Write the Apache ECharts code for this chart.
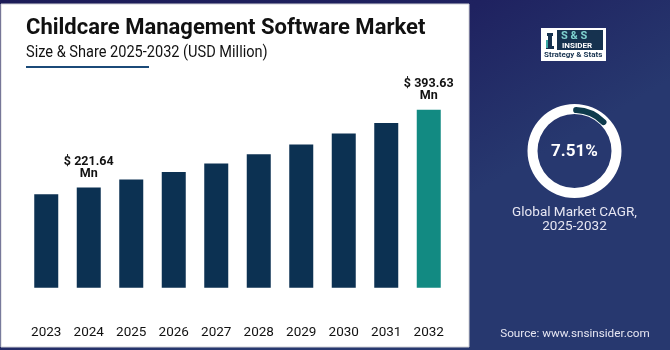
<!DOCTYPE html>
<html>
<head>
<meta charset="utf-8">
<script src="https://cdn.jsdelivr.net/npm/echarts@6/dist/echarts.min.js"></script>
<style>
  html, body { margin: 0; padding: 0; }
  #main { width: 670px; height: 350px; }
</style>
</head>
<body>
<div id="main"></div>
<script>
// data
var years = ['2023', '2024', '2025', '2026', '2027', '2028', '2029', '2030', '2031', '2032'];
var marketSize = [206.8, 221.64, 239.2, 256.0, 274.5, 295.0, 316.4, 340.7, 364.0, 393.63];
var labelledYears = ['2024', '2032'];
var cagr = '7.51%';
var cagrCaption = 'Global Market CAGR,\n2025-2032';

var chart = echarts.init(document.getElementById('main'));

var barData = marketSize.map(function (v, i) {
    var last = i === marketSize.length - 1;
    return {
        value: v,
        itemStyle: { color: last ? '#128a82' : '#0c3152' },
        label: { show: labelledYears.indexOf(years[i]) >= 0 }
    };
});

var option = {
    backgroundColor: '#1e1d5a',
    animation: false,
    graphic: [
        {
            type: 'rect', z: -20, silent: true,
            shape: { x: 0, y: 0, width: 670, height: 350 },
            style: {
                fill: new echarts.graphic.LinearGradient(0, 0, 0.3, 1, [
                    { offset: 0, color: '#1d1c58' },
                    { offset: 0.6, color: '#1f2260' },
                    { offset: 1, color: '#27386f' }
                ])
            }
        },
        // white card
        {
            type: 'rect', z: -10, silent: true,
            shape: { x: 1, y: 4, width: 468, height: 343 },
            style: { fill: '#ffffff', stroke: '#d0d0d6', lineWidth: 1 }
        },
        {
            type: 'text', left: 26, top: 17,
            style: {
                text: 'Childcare Management Software Market',
                font: 'bold 22px Roboto', fill: '#111111'
            }
        },
        {
            type: 'text', x: 26, y: 45, scaleX: 0.91,
            style: {
                text: 'Size & Share 2025-2032 (USD Million)',
                font: '16px Roboto', fill: '#111111'
            }
        },
        {
            type: 'rect', silent: true,
            shape: { x: 26, y: 66, width: 123, height: 2 },
            style: { fill: '#1b4a78' }
        },
        // logo
        {
            type: 'group', left: 541, top: 28,
            children: [
                { type: 'rect', shape: { x: 0, y: 0, width: 65, height: 33 }, style: { fill: '#ffffff' } },
                { type: 'rect', shape: { x: 6, y: 5, width: 6, height: 3 }, style: { fill: '#16324f' } },
                { type: 'rect', shape: { x: 7, y: 8, width: 4, height: 10 }, style: { fill: '#16324f' } },
                { type: 'rect', shape: { x: 5, y: 18, width: 8, height: 3 }, style: { fill: '#16324f' } },
                { type: 'rect', shape: { x: 5, y: 12, width: 2, height: 8 }, style: { fill: '#3aa7a4' } },
                { type: 'rect', shape: { x: 16, y: 2, width: 46, height: 12 }, style: { fill: '#16324f' } },
                {
                    type: 'text', left: 20, top: 3,
                    style: { text: 'S & S', font: 'bold 11px Roboto', fill: '#7fd3d0' }
                },
                { type: 'rect', shape: { x: 16, y: 14, width: 46, height: 8 }, style: { fill: '#16324f' } },
                {
                    type: 'text', left: 21, top: 14,
                    style: { text: 'INSIDER', font: 'bold 8px Roboto', fill: '#ffffff' }
                },
                {
                    type: 'text', left: 3, top: 23,
                    style: { text: 'Strategy & Stats', font: 'bold 8px Roboto', fill: '#16324f' }
                }
            ]
        },
        // CAGR ring accent
        {
            type: 'arc', silent: true, z: 5,
            shape: { cx: 574.5, cy: 151, r: 41, startAngle: -Math.PI / 2 + 0.04, endAngle: -Math.PI / 4 },
            style: { stroke: '#0d3a4c', lineWidth: 6, lineCap: 'round', fill: null }
        },
        {
            type: 'text', z: 6,
            x: 574.5, y: 152,
            style: {
                text: cagr, font: 'bold 17px Roboto', fill: '#ffffff',
                textAlign: 'center', textVerticalAlign: 'middle'
            }
        },
        {
            type: 'text',
            x: 574.5, y: 219.5,
            style: {
                text: cagrCaption, font: '13.5px Roboto', fill: '#e6e6f2',
                lineHeight: 13.5, textAlign: 'center', textVerticalAlign: 'middle'
            }
        },
        {
            type: 'text',
            x: 575, y: 334,
            style: {
                text: 'Source: www.snsinsider.com', font: '11.7px Roboto', fill: '#e6e6f2',
                textAlign: 'center', textVerticalAlign: 'middle'
            }
        }
    ],
    grid: { left: 25, right: 220, top: 61.5, bottom: 30 },
    xAxis: {
        type: 'category',
        data: years,
        axisLine: { show: false },
        axisTick: { show: false },
        axisLabel: { color: '#111111', fontSize: 13.5, fontFamily: 'Roboto', margin: 6 }
    },
    yAxis: {
        type: 'value',
        min: -71,
        max: 500,
        show: false
    },
    series: [
        {
            type: 'bar',
            data: barData,
            barWidth: 24,
            label: {
                position: 'top',
                distance: 8,
                formatter: '$ {c}\nMn',
                color: '#111111',
                fontSize: 12.5,
                fontWeight: 'bold',
                fontFamily: 'Roboto',
                lineHeight: 12
            }
        },
        {
            type: 'pie',
            silent: true,
            center: [574.5, 151],
            radius: [37, 47],
            label: { show: false },
            itemStyle: { color: '#ffffff' },
            data: [1],
            z: 1
        }
    ]
};

chart.setOption(option);
</script>
</body>
</html>
